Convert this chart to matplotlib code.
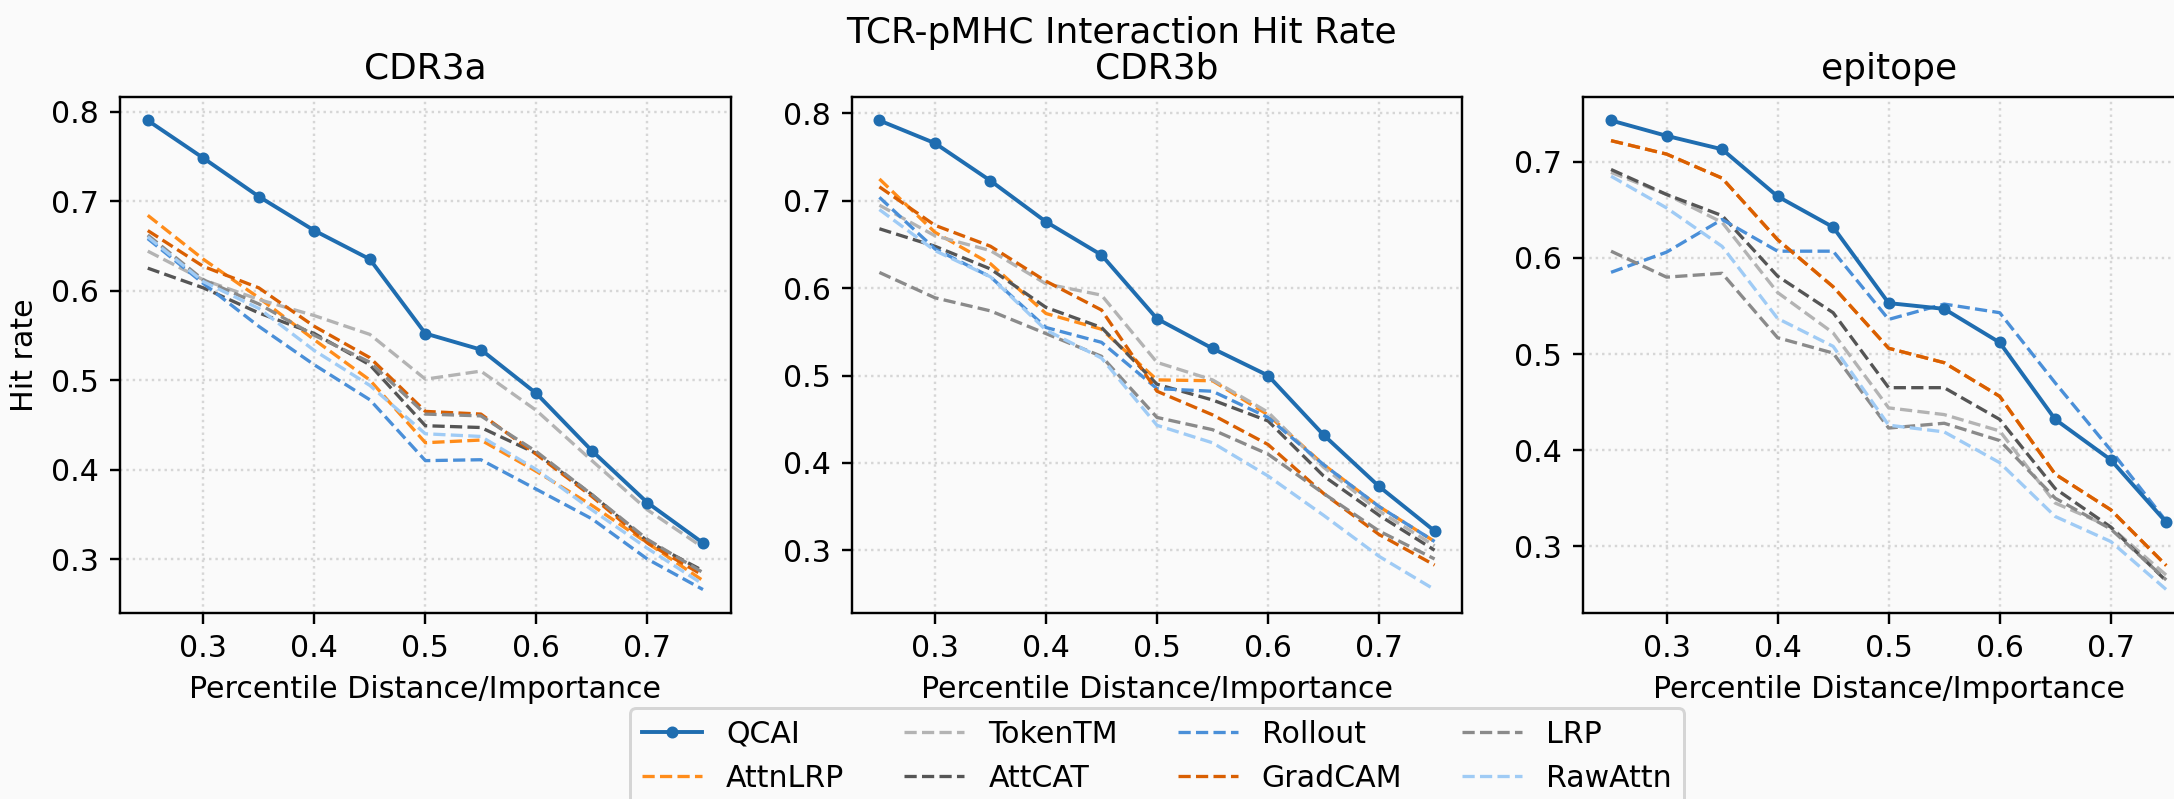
import matplotlib
matplotlib.use("Agg")

import matplotlib.pyplot as plt

OUT_PATH = "out.png"

PERCENTILES = [0.25, 0.3, 0.35, 0.4, 0.45, 0.5, 0.55, 0.6, 0.65, 0.7, 0.75]
REGIONS = ["CDR3a", "CDR3b", "epitope"]
METHODS = ["QCAI", "AttnLRP", "TokenTM", "AttCAT", "Rollout", "GradCAM", "LRP", "RawAttn"]

# hit rates per method, one list per region (CDR3a, CDR3b, epitope)
QCAI = [
    [0.790, 0.748, 0.705, 0.667, 0.635, 0.552, 0.534, 0.485, 0.421, 0.363, 0.318],
    [0.792, 0.766, 0.723, 0.676, 0.638, 0.565, 0.531, 0.500, 0.432, 0.373, 0.322],
    [0.743, 0.727, 0.713, 0.664, 0.632, 0.553, 0.547, 0.512, 0.432, 0.390, 0.325],
]
ATTNLRP = [
    [0.684, 0.635, 0.592, 0.545, 0.500, 0.430, 0.433, 0.398, 0.360, 0.318, 0.276],
    [0.725, 0.664, 0.628, 0.571, 0.553, 0.495, 0.494, 0.455, 0.398, 0.350, 0.310],
    [0.722, 0.708, 0.683, 0.619, 0.570, 0.506, 0.491, 0.456, 0.375, 0.338, 0.280],
]
TOKENTM = [
    [0.644, 0.612, 0.590, 0.572, 0.551, 0.501, 0.510, 0.466, 0.410, 0.355, 0.313],
    [0.695, 0.660, 0.643, 0.605, 0.592, 0.515, 0.495, 0.458, 0.395, 0.345, 0.305],
    [0.689, 0.666, 0.637, 0.564, 0.522, 0.444, 0.437, 0.420, 0.345, 0.320, 0.270],
]
ATTCAT = [
    [0.625, 0.603, 0.575, 0.552, 0.517, 0.449, 0.447, 0.418, 0.372, 0.320, 0.287],
    [0.668, 0.648, 0.622, 0.578, 0.555, 0.490, 0.472, 0.448, 0.385, 0.340, 0.300],
    [0.692, 0.666, 0.644, 0.581, 0.543, 0.465, 0.465, 0.432, 0.360, 0.320, 0.264],
]
ROLLOUT = [
    [0.658, 0.608, 0.560, 0.517, 0.478, 0.410, 0.411, 0.378, 0.345, 0.300, 0.266],
    [0.704, 0.645, 0.613, 0.555, 0.538, 0.485, 0.482, 0.452, 0.398, 0.350, 0.310],
    [0.585, 0.606, 0.640, 0.607, 0.607, 0.536, 0.552, 0.543, 0.470, 0.400, 0.326],
]
GRADCAM = [
    [0.667, 0.627, 0.603, 0.560, 0.525, 0.465, 0.462, 0.417, 0.370, 0.318, 0.282],
    [0.716, 0.672, 0.648, 0.608, 0.575, 0.482, 0.455, 0.421, 0.365, 0.318, 0.283],
    [0.722, 0.708, 0.683, 0.619, 0.570, 0.506, 0.491, 0.456, 0.375, 0.338, 0.280],
]
LRP = [
    [0.662, 0.612, 0.585, 0.550, 0.520, 0.462, 0.460, 0.420, 0.372, 0.322, 0.285],
    [0.618, 0.589, 0.574, 0.548, 0.522, 0.452, 0.438, 0.410, 0.365, 0.322, 0.290],
    [0.607, 0.580, 0.584, 0.517, 0.501, 0.423, 0.428, 0.410, 0.350, 0.318, 0.265],
]
RAWATTN = [
    [0.660, 0.610, 0.580, 0.533, 0.494, 0.440, 0.437, 0.400, 0.355, 0.312, 0.272],
    [0.690, 0.643, 0.613, 0.552, 0.520, 0.443, 0.423, 0.385, 0.340, 0.293, 0.255],
    [0.685, 0.652, 0.612, 0.537, 0.508, 0.426, 0.419, 0.387, 0.331, 0.305, 0.255],
]

SERIES = [QCAI, ATTNLRP, TOKENTM, ATTCAT, ROLLOUT, GRADCAM, LRP, RAWATTN]
COLORS = ["#1f6db0", "#ff8c1a", "#b3b3b3", "#555555", "#4a8fd8", "#d95f02", "#8a8a8a", "#9fcbf5"]

BG = "#fafafa"


def draw_panel(ax, idx):
    for name, data, color in zip(METHODS, SERIES, COLORS):
        if name == "QCAI":
            ax.plot(PERCENTILES, data[idx], color=color, linewidth=1.3,
                    marker="o", markersize=3, label=name, zorder=5)
        else:
            ax.plot(PERCENTILES, data[idx], color=color, linewidth=1.1,
                    linestyle="--", label=name)

    ax.set_facecolor(BG)
    ax.set_title(REGIONS[idx])
    ax.set_xlabel("Percentile Distance/Importance")
    ax.set_xticks([0.3, 0.4, 0.5, 0.6, 0.7])
    ax.grid(True, linestyle=":", color="#d6d6d6", linewidth=0.8)


def main():
    fig, axes = plt.subplots(1, 3, figsize=(2174 / 216, 799 / 216), dpi=216)
    fig.patch.set_facecolor(BG)
    fig.subplots_adjust(left=0.0552, right=1.0092, bottom=0.2328, top=0.8786, wspace=0.198)

    for i, ax in enumerate(axes):
        draw_panel(ax, i)

    axes[0].set_ylabel("Hit rate")
    fig.suptitle("TCR-pMHC Interaction Hit Rate", x=0.516, y=0.98)

    axes[1].legend(loc="upper center", bbox_to_anchor=(0.5, -0.155), ncol=4, facecolor=BG)

    fig.savefig(OUT_PATH, dpi=216, facecolor=BG)
    plt.close(fig)


if __name__ == "__main__":
    main()
